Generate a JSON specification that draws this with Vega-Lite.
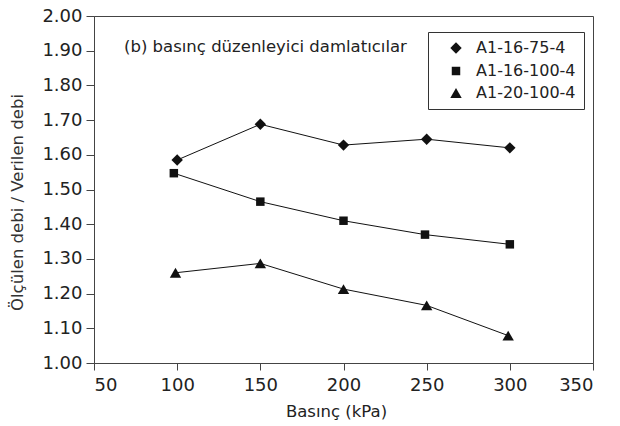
{
  "$schema": "https://vega.github.io/schema/vega-lite/v6.json",
  "width": 499,
  "height": 347,
  "autosize": {"type": "none"},
  "padding": {"left": 94, "top": 16, "right": 27, "bottom": 63},
  "background": "white",
  "config": {
    "font": "DejaVu Sans",
    "view": {"stroke": "#444", "strokeWidth": 1},
    "legend": {
      "title": null,
      "orient": "none",
      "legendX": 334,
      "legendY": 16,
      "strokeColor": "#333",
      "fillColor": "white",
      "padding": 8,
      "labelFontSize": 16,
      "labelColor": "#222",
      "symbolOffset": 12,
      "labelOffset": 12,
      "rowPadding": 6,
      "symbolFillColor": "#111",
      "symbolStrokeColor": "#111"
    }
  },
  "title": {
    "text": "(b) basınç düzenleyici damlatıcılar",
    "anchor": "start",
    "frame": "group",
    "orient": "top",
    "offset": 4,
    "baseline": "alphabetic",
    "dx": 30,
    "dy": 65,
    "fontSize": 16.5,
    "fontWeight": "normal",
    "color": "#222"
  },
  "data": {
    "values": [
      {"series": "A1-16-75-4", "pressure": 100, "ratio": 1.585},
      {"series": "A1-16-75-4", "pressure": 150, "ratio": 1.688},
      {"series": "A1-16-75-4", "pressure": 200, "ratio": 1.628},
      {"series": "A1-16-75-4", "pressure": 250, "ratio": 1.645},
      {"series": "A1-16-75-4", "pressure": 300, "ratio": 1.62},
      {"series": "A1-16-100-4", "pressure": 98, "ratio": 1.547},
      {"series": "A1-16-100-4", "pressure": 150, "ratio": 1.465},
      {"series": "A1-16-100-4", "pressure": 200, "ratio": 1.41},
      {"series": "A1-16-100-4", "pressure": 249, "ratio": 1.37},
      {"series": "A1-16-100-4", "pressure": 300, "ratio": 1.342},
      {"series": "A1-20-100-4", "pressure": 99, "ratio": 1.26},
      {"series": "A1-20-100-4", "pressure": 150, "ratio": 1.287},
      {"series": "A1-20-100-4", "pressure": 200, "ratio": 1.213},
      {"series": "A1-20-100-4", "pressure": 250, "ratio": 1.166},
      {"series": "A1-20-100-4", "pressure": 299, "ratio": 1.079}
    ]
  },
  "encoding": {
    "x": {
      "field": "pressure",
      "type": "quantitative",
      "scale": {"domain": [50, 350], "nice": false, "zero": false},
      "axis": {
        "title": "Basınç (kPa)",
        "values": [50, 100, 150, 200, 250, 300, 350],
        "grid": false,
        "tickSize": 7,
        "tickColor": "#444",
        "domainColor": "#444",
        "labelPadding": 6,
        "labelFontSize": 18,
        "labelColor": "#222",
        "titleFontSize": 16.5,
        "titleFontWeight": "normal",
        "titleColor": "#222",
        "titleX": 242,
        "titleY": 48,
        "titleBaseline": "middle",
        "titleAlign": "center"
      }
    },
    "y": {
      "field": "ratio",
      "type": "quantitative",
      "scale": {"domain": [1, 2], "nice": false, "zero": false},
      "axis": {
        "title": "Ölçülen debi / Verilen debi",
        "values": [1.0, 1.1, 1.2, 1.3, 1.4, 1.5, 1.6, 1.7, 1.8, 1.9, 2.0],
        "format": ".2f",
        "grid": false,
        "tickSize": 8,
        "tickColor": "#444",
        "domainColor": "#444",
        "labelPadding": 4,
        "labelFontSize": 18,
        "labelColor": "#222",
        "titleFontSize": 16.5,
        "titleFontWeight": "normal",
        "titleColor": "#333",
        "titleX": -77,
        "titleY": 186,
        "titleAngle": -90,
        "titleAlign": "center",
        "titleBaseline": "middle"
      }
    }
  },
  "layer": [
    {
      "mark": {"type": "line", "color": "#111", "strokeWidth": 1},
      "encoding": {"detail": {"field": "series"}}
    },
    {
      "mark": {"type": "point", "filled": true, "color": "#111", "opacity": 1},
      "encoding": {
        "size": {
          "field": "series",
          "type": "nominal",
          "scale": {
            "type": "ordinal",
            "domain": ["A1-16-75-4", "A1-16-100-4", "A1-20-100-4"],
            "range": [130, 72, 130]
          }
        },
        "shape": {
          "field": "series",
          "type": "nominal",
          "scale": {
            "domain": ["A1-16-75-4", "A1-16-100-4", "A1-20-100-4"],
            "range": ["diamond", "square", "triangle-up"]
          }
        }
      }
    }
  ]
}
